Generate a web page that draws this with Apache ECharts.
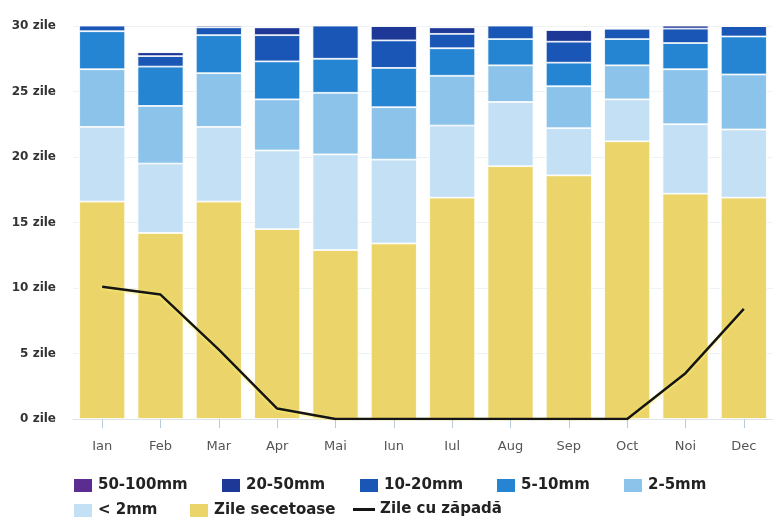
<!DOCTYPE html>
<html>
<head>
<meta charset="utf-8">
<script src="https://cdn.jsdelivr.net/npm/echarts@6/dist/echarts.min.js"></script>
<style>
html,body{margin:0;padding:0;background:#fff;}
#chart{width:773px;height:529px;}
</style>
</head>
<body>
<div id="chart"></div>
<script>
const months = ['Ian','Feb','Mar','Apr','Mai','Iun','Iul','Aug','Sep','Oct','Noi','Dec'];
const dryDays   = [16.6, 14.2, 16.6, 14.5, 12.9, 13.4, 16.9, 19.3, 18.6, 21.2, 17.2, 16.9];
const under2mm  = [5.7, 5.3, 5.7, 6.0, 7.3, 6.4, 5.5, 4.9, 3.6, 3.2, 5.3, 5.2];
const mm2to5    = [4.4, 4.4, 4.1, 3.9, 4.7, 4.0, 3.8, 2.8, 3.2, 2.6, 4.2, 4.2];
const mm5to10   = [2.9, 3.0, 2.9, 2.9, 2.6, 3.0, 2.1, 2.0, 1.8, 2.0, 2.0, 2.9];
const mm10to20  = [0.5, 0.8, 0.6, 2.0, 2.6, 2.1, 1.1, 1.1, 1.6, 0.8, 1.1, 0.8];
const mm20to50  = [0, 0.3, 0.2, 0.6, 0, 1.1, 0.5, 0, 0.9, 0, 0.4, 0];
const mm50to100 = [0, 0, 0, 0, 0, 0, 0, 0, 0, 0, 0, 0];
const snowDays  = [10.1, 9.5, 5.3, 0.8, 0, 0, 0, 0, 0, 0, 3.5, 8.4];
const yMin = 0, yMax = 30, yStep = 5;

const chart = echarts.init(document.getElementById('chart'), null, {renderer:'canvas'});

function barSeries(name, data, color){
  return {
    name: name, type: 'bar', stack: 'd', data: data, barWidth: 46,
    itemStyle: {color: color, borderColor: '#ffffff', borderWidth: 0.8},
    emphasis: {disabled: true}
  };
}

const legendFont = {fontFamily: 'DejaVu Sans', fontSize: 15, fontWeight: 'bold', color: '#222'};
function legendAt(name, left, top, extra){
  return Object.assign({
    data: [name], left: left, top: top, padding: 0, icon: 'rect',
    itemWidth: 20, itemHeight: 15, itemGap: 0,
    textStyle: legendFont, selectedMode: false
  }, extra || {});
}

chart.setOption({
  backgroundColor: '#ffffff',
  animation: false,
  grid: {left: 73, top: 26, width: 714, height: 393, containLabel: false},
  xAxis: {
    type: 'category', data: months,
    axisLine: {show: true, lineStyle: {color: '#dde4ea', width: 1}},
    axisTick: {show: true, alignWithLabel: true, length: 9, lineStyle: {color: '#b9c9d6'}},
    axisLabel: {margin: 21, fontFamily: 'DejaVu Sans', fontSize: 13, color: '#555'}
  },
  yAxis: {
    type: 'value', min: yMin, max: yMax, interval: yStep,
    axisLine: {show: false}, axisTick: {show: false},
    splitLine: {show: true, lineStyle: {color: '#edf2f5'}},
    axisLabel: {formatter: '{value} zile', margin: 17, fontFamily: 'DejaVu Sans',
      fontSize: 12, fontWeight: 'bold', color: '#333'}
  },
  legend: [
    legendAt('50-100mm', 72, 477),
    legendAt('20-50mm', 220, 477),
    legendAt('10-20mm', 358, 477),
    legendAt('5-10mm', 495, 477),
    legendAt('2-5mm', 622, 477),
    legendAt('< 2mm', 72, 502),
    legendAt('Zile secetoase', 188, 502),
    legendAt('Zile cu zăpadă', 353, 502, {itemWidth: 22, itemHeight: 3})
  ],
  series: [
    barSeries('Zile secetoase', dryDays, '#ebd56b'),
    barSeries('< 2mm', under2mm, '#c3e0f5'),
    barSeries('2-5mm', mm2to5, '#8cc3ea'),
    barSeries('5-10mm', mm5to10, '#2685d3'),
    barSeries('10-20mm', mm10to20, '#1a56b6'),
    barSeries('20-50mm', mm20to50, '#1d3896'),
    barSeries('50-100mm', mm50to100, '#5b2d90'),
    {
      name: 'Zile cu zăpadă', type: 'line', data: snowDays, symbol: 'none',
      smooth: false, z: 10,
      itemStyle: {color: '#151515'},
      lineStyle: {color: '#151515', width: 2.5, shadowColor: 'rgba(255,238,110,0.95)', shadowBlur: 3, shadowOffsetY: 1}
    }
  ]
});
</script>
</body>
</html>
